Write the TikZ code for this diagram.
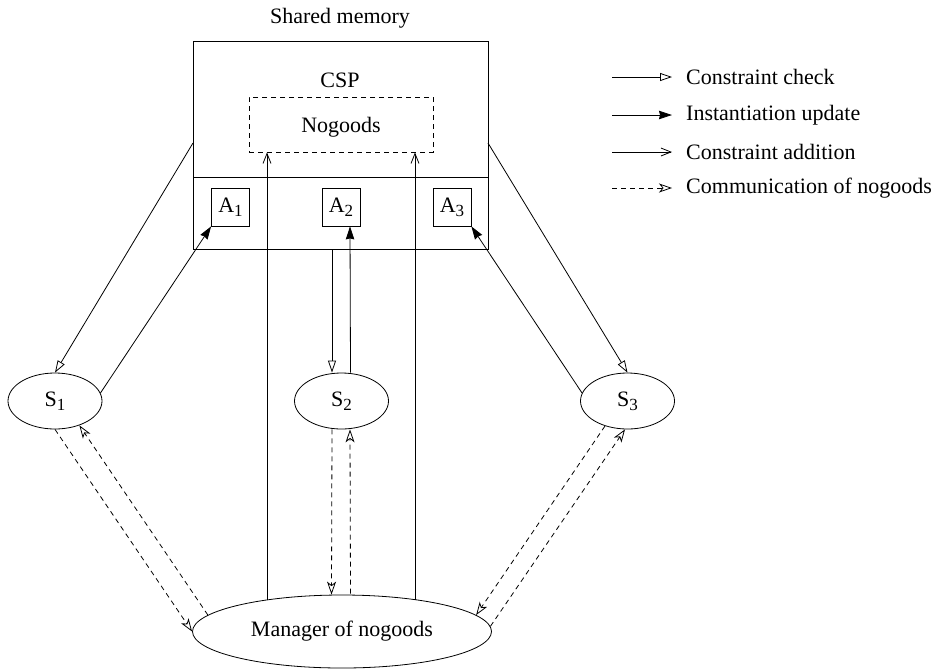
\documentclass[tikz,border=0pt]{standalone}
\usepackage{fontspec}
\setmainfont{Liberation Serif}
\usetikzlibrary{shapes.geometric,arrows.meta,calc}
\newcommand{\sbs}[1]{\raisebox{-4pt}{\fontsize{17}{17}\selectfont #1}}
\begin{document}
\begin{tikzpicture}[x=1pt,y=-1pt,
  every node/.style={font=\fontsize{22}{26}\selectfont, inner sep=0pt},
  ln/.style={line width=0.8pt},
  cc/.style={ln,-{Triangle[open,length=12pt,width=8pt]}},
  iu/.style={ln,-{Stealth[length=13pt,width=8.5pt,inset=1pt]}},
  ca/.style={ln,-{Straight Barb[length=10pt,width=8pt]}},
  cn/.style={ln,dash pattern=on 5pt off 4pt,-{Stealth[open,length=13pt,width=9pt,inset=3.5pt]}},
  abox/.style={draw,ln,minimum size=38pt},
  sell/.style={draw,ln,ellipse,minimum width=94pt,minimum height=56pt},
  legtxt/.style={anchor=west}]
\useasboundingbox (0,0) rectangle (936,670);

% shared memory
\node (smlabel) at (340,18) {Shared memory};
\node[draw,ln,minimum width=295pt,minimum height=208pt] (mem) at (340.5,145) {};
\coordinate (divl) at (193,177);
\coordinate (divr) at (488,177);
\draw[ln] (divl) -- (divr);
\node (csp) at (340,80) {CSP};
\node[draw,ln,dash pattern=on 5pt off 4pt,minimum width=184pt,minimum height=55pt] (ng) at (341,124.5) {};
\node (ngt) at (341,127) {Nogoods};

% agents
\node[abox] (A1) at (230.5,207) {A\sbs{1}};
\node[abox] (A2) at (341,207) {A\sbs{2}};
\node[abox] (A3) at (452,207) {A\sbs{3}};

% searchers
\node[sell] (S1) at (55,401) {S\sbs{1}};
\node[sell] (S2) at (341.5,401) {S\sbs{2}};
\node[sell] (S3) at (627.5,401) {S\sbs{3}};

% manager
\node[draw,ln,ellipse,minimum width=299pt,minimum height=73pt] (mgr) at (342,631.5) {Manager of nogoods};

% constraint checks
\coordinate (memL) at (193,143);
\coordinate (memR) at (488,143);
\draw[cc] (memL) -- (S1.north);
\draw[cc] (memR) -- (S3.north);
\coordinate (memB2) at (332,249);
\draw[cc] (memB2) -- ([xshift=-9.5pt]S2.north);

% instantiation updates
\draw[iu] (S1.10) -- (A1.south west);
\draw[iu] (S3.170) -- (A3.south east);
\draw[iu] ([xshift=9pt]S2.north) -- ([xshift=9pt]A2.south);

% constraint additions
\coordinate (m1) at ($(mgr.center)+(-75,-31.5)$);
\coordinate (m2) at ($(mgr.center)+(73,-31.5)$);
\draw[ca] (m1) -- (m1 |- ng.south);
\draw[ca] (m2) -- (m2 |- ng.south);

% communication of nogoods
\draw[cn] (S1.south) -- (mgr.west);
\draw[cn] (mgr.173) -- (S1.-45);
\draw[cn] ([xshift=-9.5pt]S2.south) -- ([xshift=-10.5pt]mgr.north);
\draw[cn] ([xshift=8.5pt,yshift=1pt]mgr.north) -- ([xshift=8.5pt]S2.south);
\draw[cn] (S3.-132) -- (mgr.7);
\draw[cn] (mgr.2) -- (S3.-95);

% legend
\node[legtxt] (t1) at (686,77) {Constraint check};
\node[legtxt] (t2) at (686,115) {Instantiation update};
\node[legtxt] (t3) at (686,152) {Constraint addition};
\node[legtxt] (t4) at (686,188) {Communication of nogoods};
\coordinate (l1) at (612,77);
\coordinate (l2) at (612,115);
\coordinate (l3) at (612,152);
\coordinate (l4) at (612,188);
\draw[cc] (l1) -- ([xshift=-14pt]t1.west);
\draw[iu] (l2) -- ([xshift=-14pt]t2.west);
\draw[ca] (l3) -- ([xshift=-14pt]t3.west);
\draw[cn] (l4) -- ([xshift=-14pt]t4.west);
\end{tikzpicture}
\end{document}
